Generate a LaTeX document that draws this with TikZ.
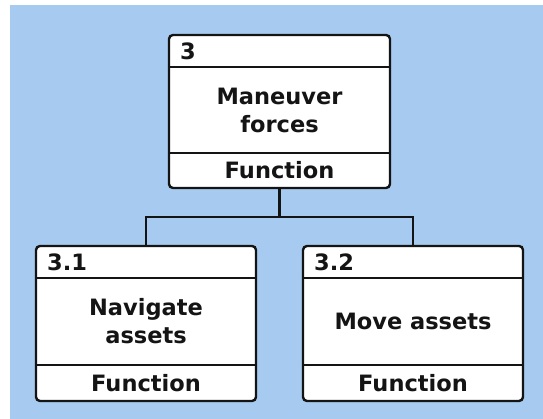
\documentclass[tikz,border=0pt]{standalone}
\usepackage{fontspec}
\setmainfont{DejaVu Sans}
\definecolor{bgblue}{HTML}{A6CAF0}
\definecolor{ink}{HTML}{141414}
\begin{document}
\begin{tikzpicture}[x=1pt,y=1pt,
  fnbox/.style={draw=ink, line width=2.4pt, fill=white, rounded corners=4pt, inner sep=0pt},
  divider/.style={draw=ink, line width=2.2pt},
  conn/.style={draw=ink, line width=2.2pt},
  lbl/.style={inner sep=0pt, text=ink, font=\bfseries\fontsize{22.5}{28}\selectfont, align=center}
]
\useasboundingbox (0,0) rectangle (543,419);
\fill[bgblue] (10,0) rectangle (543,414);

% boxes
\node[fnbox, minimum width=221pt, minimum height=153pt] (b3) at (279.5,307.5) {};
\node[fnbox, minimum width=220pt, minimum height=155pt] (b31) at (146,95.5) {};
\node[fnbox, minimum width=220pt, minimum height=155pt] (b32) at (413,95.5) {};

% dividers
\draw[divider] (b3.west |- 0,352) -- (b3.east |- 0,352);
\draw[divider] (b3.west |- 0,266) -- (b3.east |- 0,266);
\draw[divider] (b31.west |- 0,141) -- (b31.east |- 0,141);
\draw[divider] (b31.west |- 0,54) -- (b31.east |- 0,54);
\draw[divider] (b32.west |- 0,141) -- (b32.east |- 0,141);
\draw[divider] (b32.west |- 0,54) -- (b32.east |- 0,54);

% texts
\node[lbl, anchor=west] (t3) at (180,368) {3};
\node[lbl] (m3) at (279.5,309) {Maneuver\\forces};
\node[lbl] (f3) at (279.5,248.5) {Function};

\node[lbl, anchor=west] (t31) at (47,157) {3.1};
\node[lbl] (m31) at (146,97.5) {Navigate\\assets};
\node[lbl] (f31) at (146,36) {Function};

\node[lbl, anchor=west] (t32) at (314,157) {3.2};
\node[lbl] (m32) at (413,97.5) {Move assets};
\node[lbl] (f32) at (413,36) {Function};

% connectors
\coordinate (j) at (279.5,202);
\draw[conn] (b3.south) -- (j);
\draw[conn] (b31.north) |- (j) -| (b32.north);
\end{tikzpicture}
\end{document}
